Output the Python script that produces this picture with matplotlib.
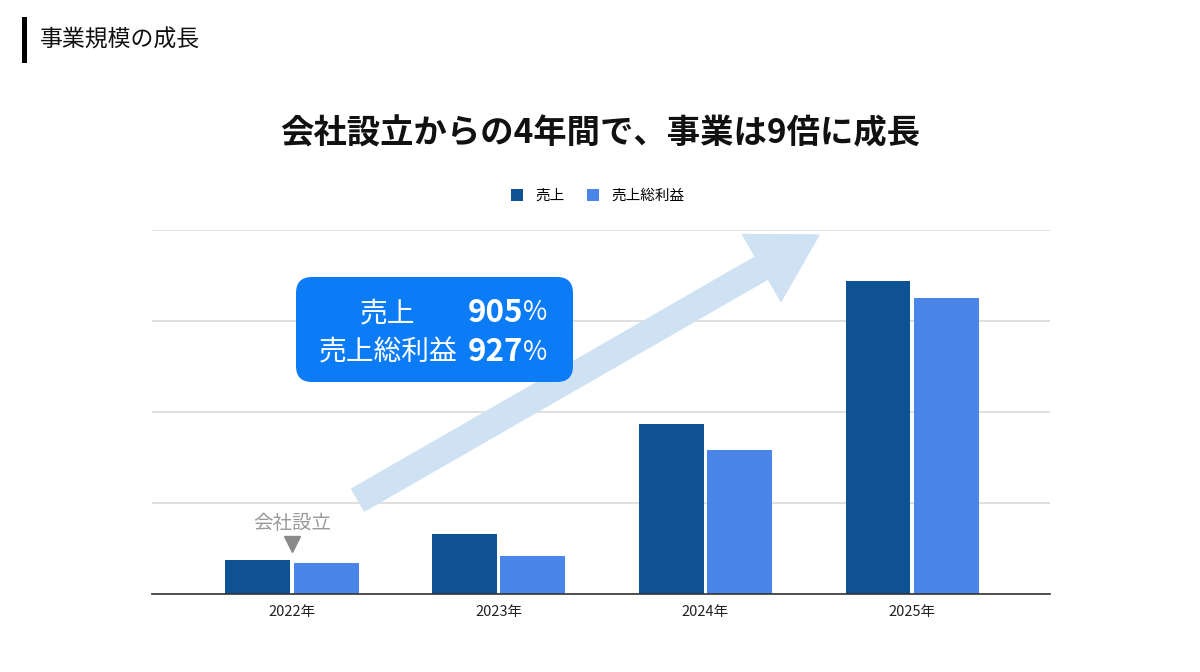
import matplotlib
matplotlib.use("Agg")
import matplotlib.pyplot as plt
from matplotlib.patches import FancyArrow, FancyBboxPatch, Rectangle
import numpy as np

plt.rcParams['font.family'] = ['Noto Sans CJK JP', 'DejaVu Sans']

# data (grid step = 25)
years = ["2022年", "2023年", "2024年", "2025年"]
sales = [9.3, 16.5, 46.7, 86.0]
gross_profit = [8.5, 10.4, 39.6, 81.3]
series_names = ["売上", "売上総利益"]
growth_labels = ["売上", "売上総利益"]
growth_values = ["905", "927"]

dark_blue = "#0f5294"
light_blue = "#4a86e8"

fig = plt.figure(figsize=(12, 6.72), dpi=100)
W, H = 1200, 672


def px(x, y):
    # pixel (top-left origin) -> inches for dpi_scale_trans
    return x / 100, (H - y) / 100


ax = fig.add_axes([152 / W, (H - 594) / H, 898 / W, 364 / H])
x = np.arange(len(years))
bw = 0.314
b1 = ax.bar(x - 0.165, sales, bw, color=dark_blue, label=series_names[0], zorder=3)
b2 = ax.bar(x + 0.165, gross_profit, bw, color=light_blue, label=series_names[1], zorder=3)

ax.set_xlim(-0.677, 3.667)
ax.set_ylim(0, 100)
ax.set_yticks([0, 25, 50, 75, 100])
ax.yaxis.grid(True, color="#d9d9d9", linewidth=1.2)
ax.set_axisbelow(True)
ax.tick_params(axis="y", length=0, labelleft=False)
ax.set_xticks(x)
ax.set_xticklabels(years, fontsize=10.5, color="#222222")
ax.tick_params(axis="x", length=0, pad=8)
for s in ["top", "left", "right"]:
    ax.spines[s].set_visible(False)
ax.spines["bottom"].set_color("#333333")
ax.spines["bottom"].set_linewidth(1.2)
ax.spines["bottom"].set_zorder(4)

# founding marker
ax.text(0, 19.5, "会社設立", ha="center", va="center", fontsize=14, color="#999999")
ax.plot([0], [13.6], marker="v", markersize=11, color="#8a8a8a", zorder=5)

# legend
fig.legend(handles=[b1, b2], labels=series_names, loc="center",
           bbox_to_anchor=(598 / W, 1 - 196 / H), ncol=2, frameon=False,
           fontsize=10.5, handlelength=0.8, handleheight=0.8,
           handletextpad=0.9, columnspacing=1.5)

# growth arrow
tx, ty = px(358, 500)
hx, hy = px(819, 235)
arrow = FancyArrow(tx, ty, hx - tx, hy - ty, width=0.255, head_width=0.77,
                   head_length=0.66, length_includes_head=True,
                   color="#cfe2f3", transform=fig.dpi_scale_trans, zorder=2)
fig.patches.append(arrow)

# callout box
bx, by = px(296, 382)
box = FancyBboxPatch((bx, by), 2.77, 1.05,
                     boxstyle="round,pad=0,rounding_size=0.16",
                     facecolor="#0b7cf6", edgecolor="none",
                     transform=fig.dpi_scale_trans, zorder=3)
fig.patches.append(box)
for i, (lab, val) in enumerate(zip(growth_labels, growth_values)):
    yy = 1 - (313 + 39 * i) / H
    fig.text(388 / W, yy, lab, ha="center", va="center", fontsize=20,
             color="white", zorder=4)
    fig.text(523 / W, yy, val, ha="right", va="center", fontsize=22.5,
             fontweight="bold", color="white", zorder=4)
    fig.text(523 / W, yy, "%", ha="left", va="center", fontsize=19,
             color="white", zorder=4)

# header and title
fig.patches.append(Rectangle((22 / W, 1 - 63 / H), 5 / W, 46 / H,
                             facecolor="black", transform=fig.transFigure))
fig.text(40 / W, 1 - 40 / H, "事業規模の成長", ha="left", va="center",
         fontsize=16.5, color="#111111")
fig.text(600 / W, 1 - 134 / H, "会社設立からの4年間で、事業は9倍に成長",
         ha="center", va="center", fontsize=24, fontweight="bold", color="#111111")

fig.savefig("out.png", dpi=100)
